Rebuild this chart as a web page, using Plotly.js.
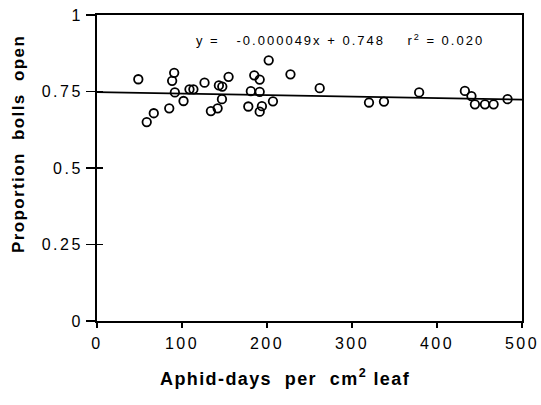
<!DOCTYPE html>
<html>
<head>
<meta charset="utf-8">
<script src="https://cdn.plot.ly/plotly-3.0.1.min.js"></script>
<style>
html,body{margin:0;padding:0;background:#fff;}
#chart{width:541px;height:405px;}
#chart .xtick text, #chart .ytick text{letter-spacing:2.5px;}
</style>
</head>
<body>
<div id="chart"></div>
<script>
const aphidDays = [48.6, 58.5, 66.8, 85, 88.4, 90.8, 91.6, 101.8, 108.8, 113.4, 126.5, 134, 141.9, 143.4, 147.4, 147, 154.8, 178, 181, 185, 191.4, 191.4, 191.4, 194, 202, 207, 227.6, 262, 320, 337.6, 379, 432.8, 440.5, 444.6, 456.4, 466.6, 483];
const propOpen = [0.790, 0.650, 0.679, 0.695, 0.785, 0.811, 0.747, 0.719, 0.757, 0.757, 0.779, 0.686, 0.695, 0.770, 0.766, 0.725, 0.798, 0.701, 0.751, 0.803, 0.789, 0.749, 0.684, 0.702, 0.852, 0.718, 0.806, 0.761, 0.714, 0.717, 0.747, 0.752, 0.735, 0.708, 0.708, 0.708, 0.725];
const slope = -0.000049;
const intercept = 0.748;
const lineX = [0, 500];
const lineY = lineX.map(v => intercept + slope * v);
const xTicks = [0, 100, 200, 300, 400, 500];
const yTicks = [0, 0.25, 0.5, 0.75, 1];
const yTickText = ['0', '0.25', '0.5', '0.75', '1'];

const font = 'Liberation Sans, Arial, sans-serif';
const traces = [
  {x: lineX, y: lineY, yaxis: 'y2', mode: 'lines', line: {color: '#000', width: 1.6}, hoverinfo: 'skip', showlegend: false},
  {x: aphidDays, y: propOpen, mode: 'markers', showlegend: false,
   marker: {symbol: 'circle-open', size: 8.5, color: '#000', line: {color: '#000', width: 1.8}}}
];
const axisCommon = {showgrid: false, zeroline: false, showline: true, linecolor: '#000', linewidth: 2,
  mirror: true, ticks: 'outside', tickwidth: 1.5, tickcolor: '#000',
  tickfont: {family: font, size: 16, color: '#000'}};
const layout = {
  width: 541, height: 405,
  margin: {l: 97, r: 19, t: 15, b: 84},
  paper_bgcolor: '#fff', plot_bgcolor: '#fff',
  xaxis: Object.assign({}, axisCommon, {range: [0, 500], tickvals: xTicks, ticktext: xTicks.map(String),
    ticklen: 5, ticklabelstandoff: 2}),
  yaxis: Object.assign({}, axisCommon, {range: [0, 1], tickvals: yTicks, ticktext: yTickText,
    ticklen: 9}),
  yaxis2: {overlaying: 'y', side: 'left', range: [0, 1], tickvals: yTicks, showticklabels: false,
    ticks: 'inside', ticklen: 6, tickwidth: 1.5, tickcolor: '#000', showgrid: false, zeroline: false,
    showline: false},
  annotations: [
    {xref: 'paper', yref: 'paper', x: 0.572, y: 0.918, xanchor: 'center', yanchor: 'middle',
     showarrow: false,
     text: '<span style="letter-spacing:2px">y =&nbsp;&nbsp; -0.000049x + 0.748&nbsp;&nbsp;&nbsp; r<sup>2</sup> = 0.020</span>',
     font: {family: font, size: 13, color: '#000'}},
    {xref: 'paper', yref: 'paper', x: 0.443, y: -0.186, xanchor: 'center', yanchor: 'middle',
     showarrow: false,
     text: '<span style="letter-spacing:1.4px"><b>Aphid-days&nbsp; per&nbsp; cm<sup>2</sup> leaf</b></span>',
     font: {family: font, size: 18, color: '#000'}},
    {xref: 'paper', yref: 'paper', x: -0.186, y: 0.578, xanchor: 'center', yanchor: 'middle',
     textangle: -90, showarrow: false,
     text: '<span style="letter-spacing:1.4px"><b>Proportion&nbsp; bolls&nbsp; open</b></span>',
     font: {family: font, size: 17, color: '#000'}}
  ]
};
Plotly.newPlot('chart', traces, layout, {displayModeBar: false, staticPlot: true});
</script>
</body>
</html>
